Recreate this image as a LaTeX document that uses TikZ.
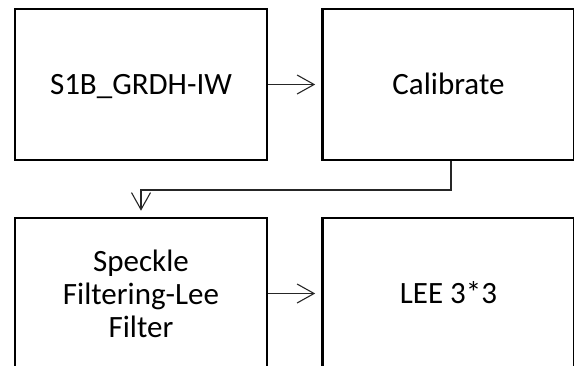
\documentclass[tikz,border=0pt]{standalone}
\usepackage{fontspec}
\setmainfont{Carlito}
\usetikzlibrary{arrows.meta}
\begin{document}
\begin{tikzpicture}[x=1pt,y=-1pt,
  stepbox/.style={draw=black,line width=2.6pt,minimum width=252pt,minimum height=151pt,inner sep=0pt,align=center,font=\fontsize{31}{33}\selectfont},
  oneline/.style={text height=20pt,text depth=0pt},
  conn/.style={draw=black!85,line width=1.3pt,-{Straight Barb[length=17pt,width=19pt,line width=1.1pt]},shorten >=6pt}]
\useasboundingbox (0,0) rectangle (574,365);
\clip (0,0) rectangle (574,365);
\node[stepbox,oneline] (a) at (141,84.5) {S1B\_GRDH-IW};
\node[stepbox,oneline] (b) at (448.5,84.5) {Calibrate};
\node[stepbox] (c) at (141,293.5) {Speckle\\Filtering-Lee\\Filter};
\node[stepbox,oneline] (d) at (448.5,293.5) {LEE 3*3};
\coordinate (k1) at (451,190);
\coordinate (k2) at (141,190);
\draw[conn] (a.east) -- (b.west);
\draw[conn] (c.east) -- (d.west);
\draw[conn] (b.south -| k1) -- (k1) -- (k2) -- (c.north -| k2);
\end{tikzpicture}
\end{document}
